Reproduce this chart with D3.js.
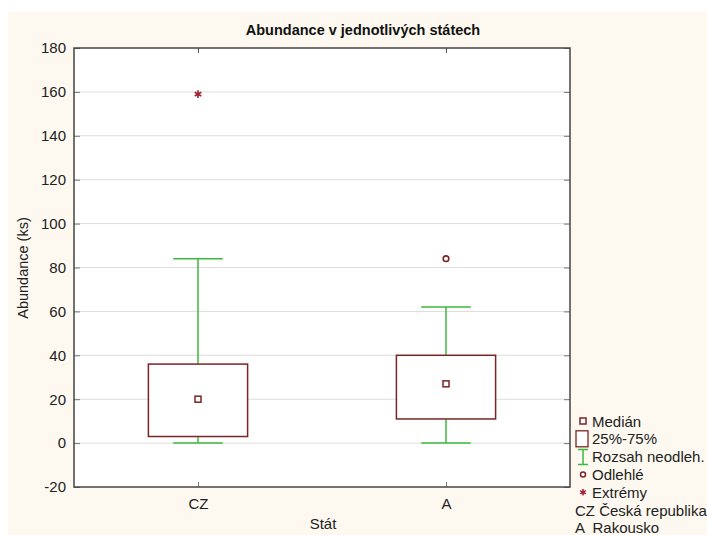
<!DOCTYPE html>
<html><head><meta charset="utf-8">
<script src="https://cdn.jsdelivr.net/npm/d3@7"></script>
<style>body{margin:0;background:#fff}svg{display:block}text{font-family:"Liberation Sans",Arial,sans-serif}</style>
</head><body><svg id="c" width="707" height="535"></svg>
<script>
const categories = ["CZ", "A"];
const whiskerLow = [0, 0];
const q1 = [3, 11];
const median = [20, 27];
const q3 = [36, 40];
const whiskerHigh = [84, 62];
const outliers = [[], [84]];
const extremes = [[159], []];
const yTicks = [-20, 0, 20, 40, 60, 80, 100, 120, 140, 160, 180];
const legendItems = ["Medián", "25%-75%", "Rozsah neodleh.", "Odlehlé", "Extrémy"];
const legendNames = ["CZ Česká republika", "A  Rakousko"];

const svg = d3.select("#c");
const boxCol = "#7a2424", whCol = "#3cb83c", gridCol = "#dcdcdc";
svg.append("rect").attr("x", 8).attr("y", 12).attr("width", 699).attr("height", 523).attr("fill", "#fdf9f0");

const L = 74, R = 570, T = 48, B = 487;
const x = d3.scalePoint().domain(categories).range([L, R]).padding(0.5);
const y = d3.scaleLinear().domain([-20, 180]).range([B, T]);
const step = x.step();

svg.append("rect").attr("x", L).attr("y", T).attr("width", R - L).attr("height", B - T).attr("fill", "#fff");
// grid
svg.append("g").selectAll("line").data(yTicks.slice(1, -1)).join("line")
  .attr("x1", L).attr("x2", R).attr("y1", d => y(d)).attr("y2", d => y(d))
  .attr("stroke", gridCol).attr("stroke-width", 1);

// y axis
const ya = svg.append("g").attr("transform", `translate(${L},0)`)
  .call(d3.axisLeft(y).tickValues(yTicks).tickSize(-6).tickPadding(8).tickFormat(d => String(d)));
ya.select(".domain").remove();
ya.selectAll("line").attr("stroke", "#777");
ya.selectAll("text").attr("font-size", 15).attr("fill", "#222");
const ya2 = svg.append("g").attr("transform", `translate(${R},0)`)
  .call(d3.axisRight(y).tickValues(yTicks).tickSize(-6).tickFormat(""));
ya2.select(".domain").remove();
ya2.selectAll("line").attr("stroke", "#777");

// x axis
const xa = svg.append("g").attr("transform", `translate(0,${B})`)
  .call(d3.axisBottom(x).tickSize(-5).tickPadding(11));
xa.select(".domain").remove();
xa.selectAll("line").attr("stroke", "#777");
xa.selectAll("text").attr("font-size", 15).attr("fill", "#222");
const xa2 = svg.append("g").attr("transform", `translate(0,${T})`)
  .call(d3.axisTop(x).tickSize(-5).tickFormat(""));
xa2.select(".domain").remove();
xa2.selectAll("line").attr("stroke", "#555");

// frame
svg.append("rect").attr("x", L).attr("y", T).attr("width", R - L).attr("height", B - T)
  .attr("fill", "none").attr("stroke", "#444").attr("stroke-width", 1.5);

// boxes
const g = svg.append("g");
categories.forEach((c, i) => {
  const cx = x(c), bw = step * 0.4, cw = step * 0.2;
  g.append("line").attr("x1", cx).attr("x2", cx).attr("y1", y(q3[i])).attr("y2", y(whiskerHigh[i])).attr("stroke", whCol).attr("stroke-width", 1.5);
  g.append("line").attr("x1", cx).attr("x2", cx).attr("y1", y(q1[i])).attr("y2", y(whiskerLow[i])).attr("stroke", whCol).attr("stroke-width", 1.5);
  [whiskerHigh[i], whiskerLow[i]].forEach(v => g.append("line").attr("x1", cx - cw / 2).attr("x2", cx + cw / 2).attr("y1", y(v)).attr("y2", y(v)).attr("stroke", whCol).attr("stroke-width", 1.5));
  g.append("rect").attr("x", cx - bw / 2).attr("y", y(q3[i])).attr("width", bw).attr("height", y(q1[i]) - y(q3[i]))
    .attr("fill", "#fff").attr("stroke", boxCol).attr("stroke-width", 1.5);
  g.append("rect").attr("x", cx - 3).attr("y", y(median[i]) - 3).attr("width", 6).attr("height", 6)
    .attr("fill", "#fff").attr("stroke", boxCol).attr("stroke-width", 1.5);
  outliers[i].forEach(v => g.append("circle").attr("cx", cx).attr("cy", y(v)).attr("r", 2.8).attr("fill", "#fff").attr("stroke", boxCol).attr("stroke-width", 1.6));
  extremes[i].forEach(v => g.append("path").attr("transform", `translate(${cx},${y(v)})`)
    .attr("d", d3.symbol(d3.symbolAsterisk, 40)()).attr("stroke", "#a02030").attr("stroke-width", 1.6));
});

// title & labels
svg.append("text").attr("x", 363).attr("y", 35).attr("text-anchor", "middle").attr("font-size", 14.5).attr("font-weight", "bold").attr("fill", "#111").text("Abundance v jednotlivých státech");
svg.append("text").attr("transform", "translate(28,268) rotate(-90)").attr("text-anchor", "middle").attr("font-size", 14.5).attr("fill", "#222").text("Abundance (ks)");
svg.append("text").attr("x", 323).attr("y", 529).attr("text-anchor", "middle").attr("font-size", 15).attr("fill", "#222").text("Stát");

// legend
const lg = svg.append("g");
const ly0 = 421, ls = 17.8;
legendItems.forEach((t, i) => {
  lg.append("text").attr("x", 592).attr("y", ly0 + i * ls + 5.5).attr("font-size", 15).attr("fill", "#222").text(t);
});
lg.append("rect").attr("x", 580).attr("y", ly0 - 3).attr("width", 6).attr("height", 6).attr("fill", "#fff").attr("stroke", boxCol).attr("stroke-width", 1.5);
lg.append("rect").attr("x", 576).attr("y", ly0 + ls - 8).attr("width", 12).attr("height", 16).attr("fill", "#fff").attr("stroke", boxCol).attr("stroke-width", 1.3);
const wy = ly0 + 2 * ls;
lg.append("path").attr("d", `M578,${wy - 7}H588M583,${wy - 7}V${wy + 8}M578,${wy + 8}H588`).attr("fill", "none").attr("stroke", whCol).attr("stroke-width", 1.5);
lg.append("circle").attr("cx", 583).attr("cy", ly0 + 3 * ls).attr("r", 2.5).attr("fill", "#fff").attr("stroke", boxCol).attr("stroke-width", 1.5);
lg.append("path").attr("transform", `translate(583,${ly0 + 4 * ls})`).attr("d", d3.symbol(d3.symbolAsterisk, 30)()).attr("stroke", "#a02030").attr("stroke-width", 1.5);
legendNames.forEach((t, i) => {
  lg.append("text").attr("x", 575).attr("y", ly0 + (5 + i) * ls + 5.5).attr("font-size", 15).attr("fill", "#222").style("white-space", "pre").text(t);
});
</script></body></html>
